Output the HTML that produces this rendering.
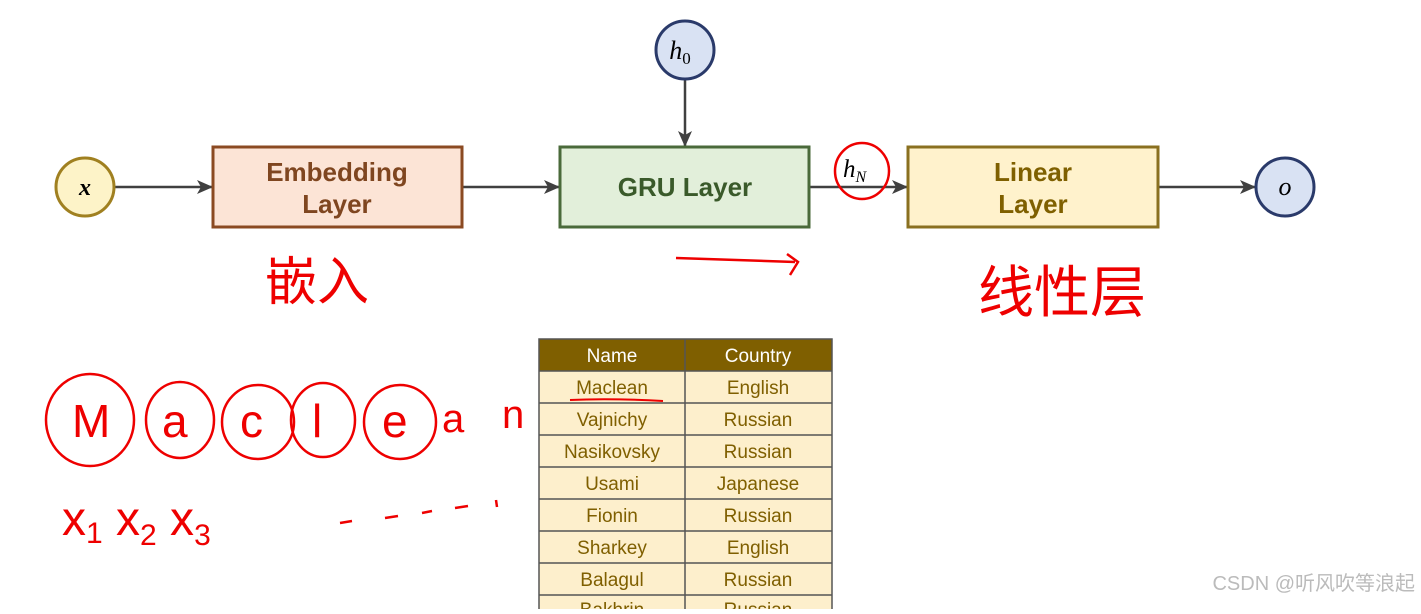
<!DOCTYPE html>
<html><head><meta charset="utf-8"><style>
body{margin:0;background:#fff;width:1421px;height:609px;overflow:hidden;font-family:"Liberation Sans",sans-serif}
</style></head><body>
<svg width="1421" height="609" viewBox="0 0 1421 609" xmlns="http://www.w3.org/2000/svg">
<defs><marker id="a" markerWidth="16" markerHeight="14" refX="15" refY="7" orient="auto" markerUnits="userSpaceOnUse"><path d="M0,0 L16,7 L0,14 L4,7 z" fill="#404040"/></marker></defs>
<g stroke="#404040" stroke-width="2.5" fill="none">
<line x1="114" y1="187" x2="212" y2="187" marker-end="url(#a)"/>
<line x1="462" y1="187" x2="559" y2="187" marker-end="url(#a)"/>
<line x1="809" y1="187" x2="907" y2="187" marker-end="url(#a)"/>
<line x1="1158" y1="187" x2="1255" y2="187" marker-end="url(#a)"/>
<line x1="685" y1="79" x2="685" y2="146" marker-end="url(#a)"/>
</g>
<circle cx="85" cy="187" r="29" fill="#fdf3c8" stroke="#a08020" stroke-width="3"/>
<text x="85" y="195" text-anchor="middle" font-family="Liberation Serif" font-style="italic" font-weight="bold" font-size="24">x</text>
<circle cx="685" cy="50" r="29" fill="#d9e2f3" stroke="#2a3a6a" stroke-width="3"/>
<text x="680" y="59" text-anchor="middle" font-family="Liberation Serif" font-style="italic" font-size="26">h<tspan font-size="17" dy="5" font-style="normal">0</tspan></text>
<circle cx="1285" cy="187" r="29" fill="#d9e2f3" stroke="#2a3a6a" stroke-width="3"/>
<text x="1285" y="195" text-anchor="middle" font-family="Liberation Serif" font-style="italic" font-size="26">o</text>
<rect x="213" y="147" width="249" height="80" fill="#fce4d6" stroke="#8b4a22" stroke-width="3"/>
<text x="337" y="181" text-anchor="middle" font-weight="bold" font-size="26" fill="#7f4620">Embedding</text>
<text x="337" y="213" text-anchor="middle" font-weight="bold" font-size="26" fill="#7f4620">Layer</text>
<rect x="560" y="147" width="249" height="80" fill="#e2efda" stroke="#4a6a3a" stroke-width="3"/>
<text x="685" y="196" text-anchor="middle" font-weight="bold" font-size="26" fill="#3a5a2a">GRU Layer</text>
<rect x="908" y="147" width="250" height="80" fill="#fff2cc" stroke="#8a7020" stroke-width="3"/>
<text x="1033" y="181" text-anchor="middle" font-weight="bold" font-size="26" fill="#7f6000">Linear</text>
<text x="1033" y="213" text-anchor="middle" font-weight="bold" font-size="26" fill="#7f6000">Layer</text>
<text x="843" y="177" font-family="Liberation Serif" font-style="italic" font-size="25">h<tspan font-size="16" dy="5">N</tspan></text>
<ellipse cx="862" cy="171" rx="27" ry="28" fill="none" stroke="#e00" stroke-width="2.5"/>
<path d="M676 258 L795 262 M787 254 L798 262 L790 275" stroke="#e00" stroke-width="2.5" fill="none"/>
<g fill="#e00" font-family="Noto Sans CJK SC,sans-serif">
<text x="265" y="300" font-size="52">嵌入</text>
<text x="978" y="312" font-size="56">线性层</text>
</g>
<g fill="none" stroke="#e00" stroke-width="2.5">
<ellipse cx="90" cy="420" rx="44" ry="46"/>
<ellipse cx="180" cy="420" rx="34" ry="38"/>
<ellipse cx="258" cy="422" rx="36" ry="37"/>
<ellipse cx="323" cy="420" rx="32" ry="37"/>
<ellipse cx="400" cy="422" rx="36" ry="37"/>
<path d="M340 523 L352 521 M385 518 L398 516 M422 513 L432 511 M455 508 L468 506 M496 500 L497 507"/>
</g>
<g fill="#e00" font-family="Liberation Sans" font-size="46">
<text x="72" y="437">M</text><text x="162" y="437">a</text><text x="240" y="437">c</text><text x="312" y="437">l</text><text x="382" y="437">e</text>
<text x="442" y="432" font-size="40">a</text><text x="502" y="428" font-size="40">n</text>
<text x="62" y="535" font-size="48">x<tspan font-size="30" dy="8">1</tspan><tspan dy="-8"> x</tspan><tspan font-size="30" dy="10">2</tspan><tspan dy="-10"> x</tspan><tspan font-size="30" dy="10">3</tspan></text>
</g>
<g font-size="19" text-anchor="middle">
<rect x="539" y="339" width="293" height="32" fill="#7f5f00"/>
<text x="612" y="362" fill="#fff">Name</text><text x="758" y="362" fill="#fff">Country</text>
<rect x="539" y="371" width="293" height="240" fill="#fdefcc"/>
<g fill="#7f5f00">
<text x="612" y="394">Maclean</text><text x="758" y="394">English</text>
<text x="612" y="426">Vajnichy</text><text x="758" y="426">Russian</text>
<text x="612" y="458">Nasikovsky</text><text x="758" y="458">Russian</text>
<text x="612" y="490">Usami</text><text x="758" y="490">Japanese</text>
<text x="612" y="522">Fionin</text><text x="758" y="522">Russian</text>
<text x="612" y="554">Sharkey</text><text x="758" y="554">English</text>
<text x="612" y="586">Balagul</text><text x="758" y="586">Russian</text>
<text x="612" y="616">Bakhrin</text><text x="758" y="616">Russian</text>
</g>
<g stroke="#555" stroke-width="1.5" fill="none">
<rect x="539" y="339" width="293" height="280"/>
<line x1="685" y1="339" x2="685" y2="609"/>
<line x1="539" y1="371" x2="832" y2="371"/><line x1="539" y1="403" x2="832" y2="403"/>
<line x1="539" y1="435" x2="832" y2="435"/><line x1="539" y1="467" x2="832" y2="467"/>
<line x1="539" y1="499" x2="832" y2="499"/><line x1="539" y1="531" x2="832" y2="531"/>
<line x1="539" y1="563" x2="832" y2="563"/><line x1="539" y1="595" x2="832" y2="595"/>
</g>
<path d="M570 400 Q610 398 663 401" stroke="#e00" stroke-width="2" fill="none"/>
</g>
<text x="1415" y="590" text-anchor="end" font-size="20" fill="#bbb" font-family="Liberation Sans,Noto Sans CJK SC,sans-serif">CSDN @听风吹等浪起</text>
</svg>
</body></html>
